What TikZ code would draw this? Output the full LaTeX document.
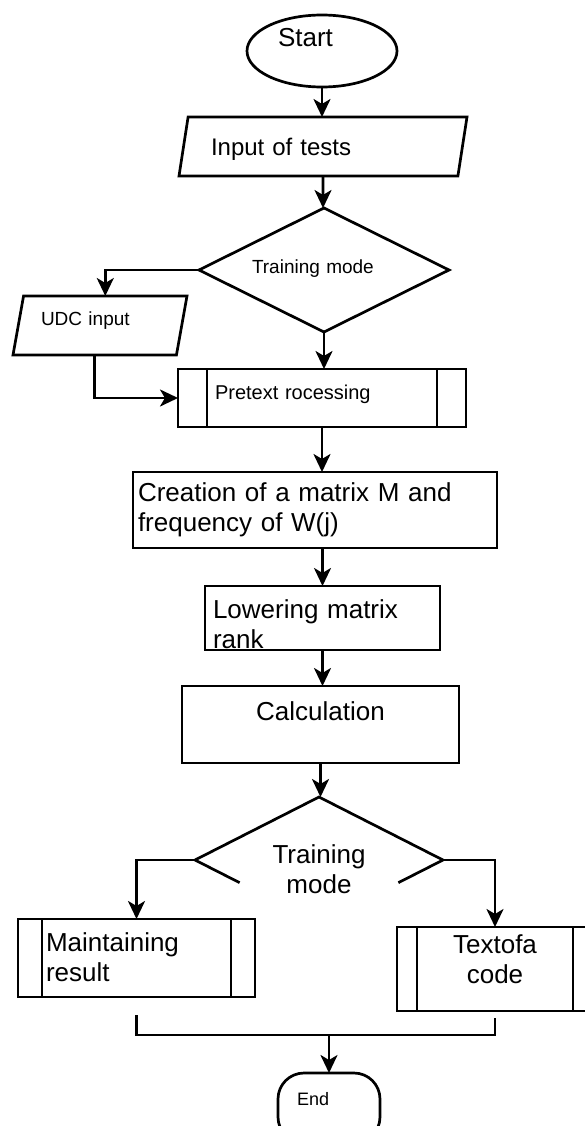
\documentclass[tikz,border=0pt]{standalone}
\usepackage{fontspec}
\setmainfont{Liberation Sans}
\usepackage{tikz}
\usetikzlibrary{arrows.meta,positioning,shapes.geometric,calc}
\newcommand\bigtxt{\fontsize{26}{30}\selectfont}
\newcommand\smalltxt{\fontsize{19}{23}\selectfont}

\begin{document}
\begin{tikzpicture}[x=1pt,y=-1pt,line width=2.7pt,every node/.style={inner sep=0pt,outer sep=0pt},
  box/.style={draw,rectangle},
  subproc/.style={draw,rectangle,path picture={
    \draw ([xshift=#1]path picture bounding box.north west)--([xshift=#1]path picture bounding box.south west);
    \draw ([xshift=-#1]path picture bounding box.north east)--([xshift=-#1]path picture bounding box.south east);}},
  io/.style={draw,trapezium,trapezium left angle=70,trapezium right angle=110,trapezium stretches body},
  arr/.style={-{Stealth[length=18pt,width=17pt,inset=5pt]}}]
\useasboundingbox (0,0) rectangle (585,1126);
\clip (0,0) rectangle (585,1126);
\node[draw,ellipse,minimum width=150pt,minimum height=72pt,text width=88pt,align=left,text height=19pt,text depth=27pt,font=\bigtxt] (st) at (322,51) {Start};
\node[io,minimum width=288pt,minimum height=59pt,text width=224pt,align=left,text height=22pt,text depth=3pt,font=\fontsize{24}{28}\selectfont] (inp) at (323,146.5) {Input of tests};
\node[draw,diamond,shape aspect=2,minimum width=250pt,minimum height=124pt,text width=144pt,align=left,text height=14pt,text depth=8pt,font=\smalltxt] (trn) at (324,270) {Training mode};
\node[io,minimum width=174pt,minimum height=59pt,text width=118pt,align=left,text height=14pt,text depth=15pt,font=\smalltxt] (udc) at (100,325.5) {UDC input};
\node[subproc=29pt,minimum width=288pt,minimum height=58pt,text width=214pt,align=left,text height=15pt,text depth=13pt,font=\fontsize{20}{24}\selectfont] (pre) at (322,398) {Pretext rocessing};
\node[box,minimum width=364pt,minimum height=76pt,text width=354pt,align=left,text height=19pt,text depth=37pt,font=\bigtxt] (mat) at (315,510) {Creation of a matrix M and\\frequency of W(j)};
\node[box,minimum width=235pt,minimum height=64pt,text width=219pt,align=left,text height=30pt,text depth=30pt,font=\bigtxt] (low) at (322.5,618) {Lowering matrix\\rank};
\node[box,minimum width=277pt,minimum height=77pt,text width=250pt,align=center,text height=19pt,text depth=28pt,font=\bigtxt] (cal) at (320.5,724.5) {Calculation};
\node[diamond,shape aspect=1.97,minimum width=248pt,minimum height=126pt,text width=110pt,align=center,text height=19pt,text depth=13pt,font=\bigtxt] (trn2) at (319,860) {Training\\mode};
\node[subproc=24pt,minimum width=237pt,minimum height=78pt,text width=181pt,align=left,text height=19pt,text depth=33pt,font=\bigtxt] (kee) at (136.5,958) {Maintaining\\result};
\node[subproc=20pt,minimum width=196pt,minimum height=84pt,text width=150pt,align=center,text height=19pt,text depth=51pt,font=\bigtxt] (txt) at (495,969) {Textofa\\code};
\node[draw,rectangle,rounded corners=26pt,minimum width=102pt,minimum height=70pt,text width=64pt,align=left,text height=13pt,text depth=19pt,font=\fontsize{18}{22}\selectfont] (fin) at (329,1108) {End};
% open lower half of the second decision
\draw (trn2.west)--(trn2.north)--(trn2.east);
\draw (trn2.west)--($(trn2.west)!0.36!(trn2.south)$);
\draw (trn2.east)--($(trn2.east)!0.36!(trn2.south)$);
\draw[arr] (st)--(st |- inp.north);
\draw[arr] (inp)--(inp |- trn.north);
\draw[arr] (trn.south)--(trn.south |- pre.north);
\draw[arr] (trn.west) -| (udc.top side);
\draw[arr] (udc.bottom side) |- (pre.west);
\draw[arr] (pre.south)--(pre.south |- mat.north);
\draw[arr] (low.north |- mat.south)--(low.north);
\draw[arr] (low.south)--(low.south |- cal.north);
\draw[arr] (cal.south)--(cal.south |- trn2.north);
\draw[arr] (trn2.west) -| (kee.north);
\draw[arr] (trn2.east) -| (txt.north);
\coordinate (jn) at ([yshift=-24pt]txt.south);
\draw ([yshift=-18pt]kee.south) |- (jn)--([yshift=-7pt]txt.south);
\draw[arr] (fin.north |- jn)--(fin.north);
\end{tikzpicture}
\end{document}
